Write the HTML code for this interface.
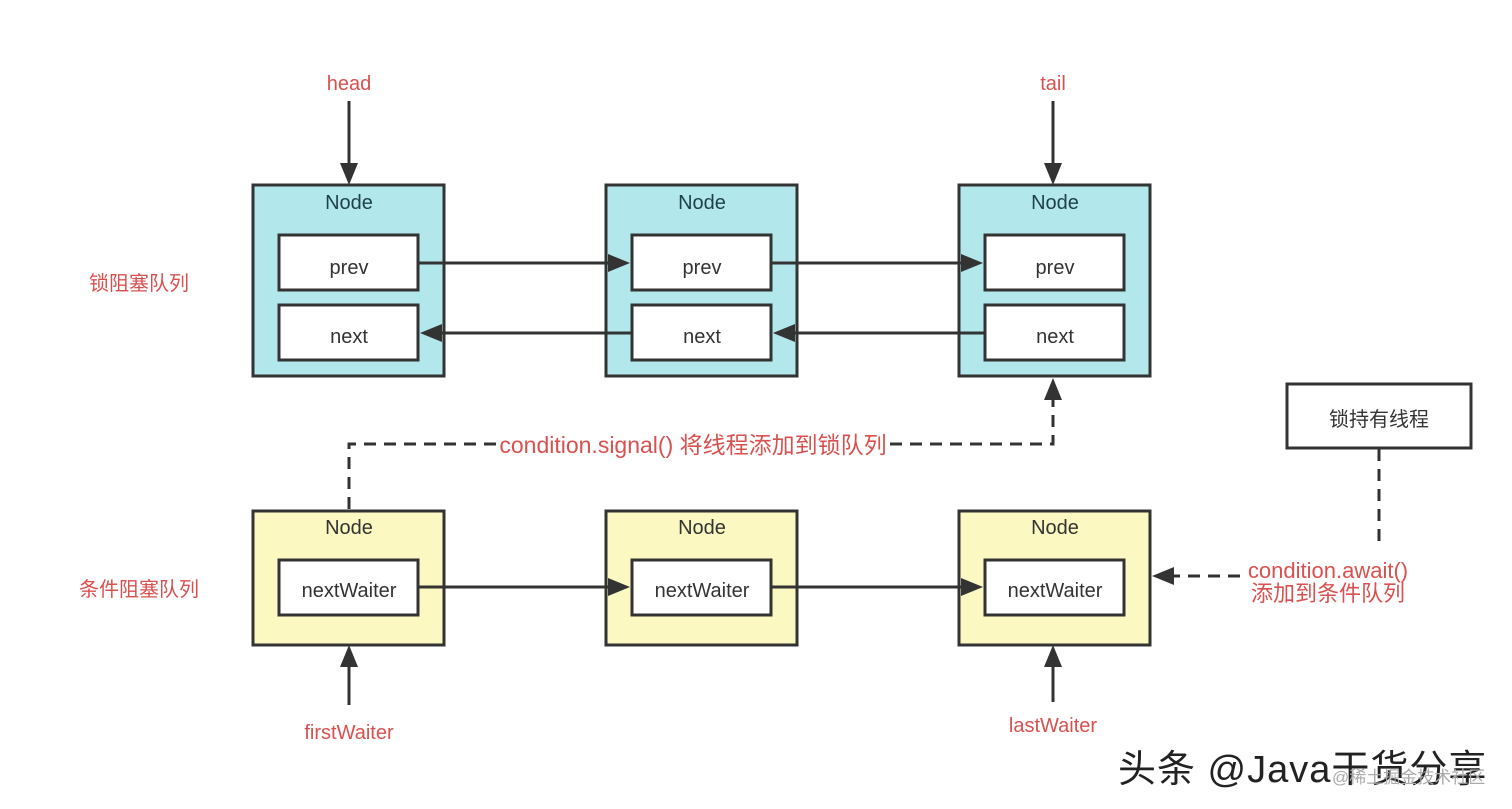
<!DOCTYPE html>
<html><head><meta charset="utf-8"><style>
html,body{margin:0;padding:0;background:#fff;width:1512px;height:809px;overflow:hidden}
svg{display:block}
text{font-family:"Liberation Sans","Noto Sans CJK SC",sans-serif}
.red{fill:#d9514f;font-size:20px}
.blk{fill:#333;font-size:20px}
</style></head><body>
<svg width="1512" height="809" viewBox="0 0 1512 809" xmlns="http://www.w3.org/2000/svg">
<g stroke="#333" stroke-width="3">
<rect x="253" y="185" width="191" height="191" fill="#b2e8ec"/>
<rect x="606" y="185" width="191" height="191" fill="#b2e8ec"/>
<rect x="959" y="185" width="191" height="191" fill="#b2e8ec"/>
<rect x="279" y="235" width="139" height="55" fill="#fff"/>
<rect x="279" y="305" width="139" height="55" fill="#fff"/>
<rect x="632" y="235" width="139" height="55" fill="#fff"/>
<rect x="632" y="305" width="139" height="55" fill="#fff"/>
<rect x="985" y="235" width="139" height="55" fill="#fff"/>
<rect x="985" y="305" width="139" height="55" fill="#fff"/>
<rect x="253" y="511" width="191" height="134" fill="#fbf8c2"/>
<rect x="606" y="511" width="191" height="134" fill="#fbf8c2"/>
<rect x="959" y="511" width="191" height="134" fill="#fbf8c2"/>
<rect x="279" y="560" width="139" height="55" fill="#fff"/>
<rect x="632" y="560" width="139" height="55" fill="#fff"/>
<rect x="985" y="560" width="139" height="55" fill="#fff"/>
<rect x="1287" y="384" width="184" height="64" fill="#fff"/>
<line x1="418" y1="263" x2="610" y2="263"/>
<line x1="771" y1="263" x2="963" y2="263"/>
<line x1="440" y1="333" x2="632" y2="333"/>
<line x1="793" y1="333" x2="985" y2="333"/>
<line x1="418" y1="587" x2="610" y2="587"/>
<line x1="771" y1="587" x2="963" y2="587"/>
<line x1="349" y1="101" x2="349" y2="165"/>
<line x1="1053" y1="101" x2="1053" y2="165"/>
<line x1="349" y1="705" x2="349" y2="665"/>
<line x1="1053" y1="702" x2="1053" y2="665"/>
<g fill="none" stroke-dasharray="12,8">
<polyline points="349,509 349,444 496,444"/>
<polyline points="890,444 1053,444 1053,400"/>
<polyline points="1379,449 1379,546"/>
<line x1="1240" y1="576" x2="1172" y2="576"/>
</g>
</g>
<g fill="#333">
<polygon points="630,263 608,254 608,272"/>
<polygon points="983,263 961,254 961,272"/>
<polygon points="420,333 442,324 442,342"/>
<polygon points="773,333 795,324 795,342"/>
<polygon points="630,587 608,578 608,596"/>
<polygon points="983,587 961,578 961,596"/>
<polygon points="349,185 340,163 358,163"/>
<polygon points="1053,185 1044,163 1062,163"/>
<polygon points="349,645 340,667 358,667"/>
<polygon points="1053,645 1044,667 1062,667"/>
<polygon points="1053,378 1044,400 1062,400"/>
<polygon points="1152,576 1174,567 1174,585"/>
</g>
<g class="blk" text-anchor="middle">
<text x="349" y="209" fill="#1f3f4a">Node</text>
<text x="702" y="209" fill="#1f3f4a">Node</text>
<text x="1055" y="209" fill="#1f3f4a">Node</text>
<text x="349" y="274">prev</text>
<text x="702" y="274">prev</text>
<text x="1055" y="274">prev</text>
<text x="349" y="343">next</text>
<text x="702" y="343">next</text>
<text x="1055" y="343">next</text>
<text x="349" y="534">Node</text>
<text x="702" y="534">Node</text>
<text x="1055" y="534">Node</text>
<text x="349" y="597">nextWaiter</text>
<text x="702" y="597">nextWaiter</text>
<text x="1055" y="597">nextWaiter</text>
<text x="1379" y="426">锁持有线程</text>
</g>
<g class="red" text-anchor="middle">
<text x="349" y="90">head</text>
<text x="1053" y="90">tail</text>
<text x="349" y="739">firstWaiter</text>
<text x="1053" y="732">lastWaiter</text>
<text x="139" y="290">锁阻塞队列</text>
<text x="139" y="596">条件阻塞队列</text>
<text x="693" y="453" font-size="23">condition.signal() 将线程添加到锁队列</text>
<text x="1328" y="578" font-size="22">condition.await()</text>
<text x="1328" y="601" font-size="22">添加到条件队列</text>
</g>
<text x="1118" y="782" font-size="38" fill="#222" letter-spacing="1">头条 @Java干货分享</text>
<text x="1332" y="783" font-size="17" fill="#aaa">@稀土掘金技术社区</text>
</svg>
</body></html>
